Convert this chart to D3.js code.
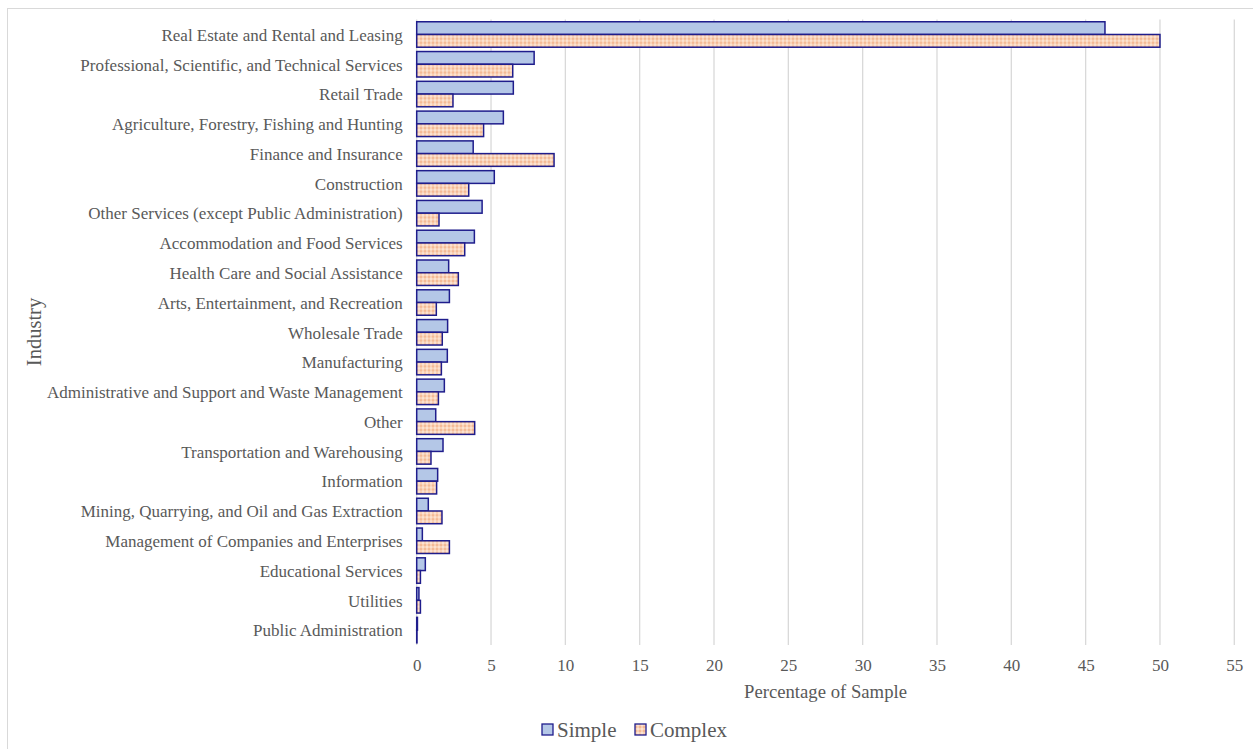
<!DOCTYPE html>
<html>
<head>
<meta charset="utf-8">
<script src="https://cdn.jsdelivr.net/npm/d3@7"></script>
<style>
  html, body { margin: 0; padding: 0; background: #fff; }
  svg { display: block; font-family: "Liberation Serif", "Times New Roman", serif; }
</style>
</head>
<body>
<svg id="chart" width="1253" height="749"></svg>
<script>
// Share of each sample by industry (%)
const categories = [
  "Real Estate and Rental and Leasing",
  "Professional, Scientific, and Technical Services",
  "Retail Trade",
  "Agriculture, Forestry, Fishing and Hunting",
  "Finance and Insurance",
  "Construction",
  "Other Services (except Public Administration)",
  "Accommodation and Food Services",
  "Health Care and Social Assistance",
  "Arts, Entertainment, and Recreation",
  "Wholesale Trade",
  "Manufacturing",
  "Administrative and Support and Waste Management",
  "Other",
  "Transportation and Warehousing",
  "Information",
  "Mining, Quarrying, and Oil and Gas Extraction",
  "Management of Companies and Enterprises",
  "Educational Services",
  "Utilities",
  "Public Administration"
];
const seriesNames = ["Simple", "Complex"];
const simpleValues = [46.3, 7.9, 6.5, 5.83, 3.8, 5.22, 4.4, 3.88, 2.15, 2.2, 2.08, 2.06, 1.86, 1.28, 1.77, 1.41, 0.78, 0.38, 0.58, 0.15, 0.05];
const complexValues = [50.0, 6.46, 2.44, 4.5, 9.24, 3.5, 1.5, 3.23, 2.8, 1.32, 1.72, 1.66, 1.46, 3.9, 0.96, 1.34, 1.7, 2.2, 0.25, 0.25, 0.02];
const xTicks = [0, 5, 10, 15, 20, 25, 30, 35, 40, 45, 50, 55];

const svg = d3.select("#chart");
const textColor = "#595959";
const edge = "#1f1d8c";

// Patterned fill for the Complex series
const defs = svg.append("defs");
const pat = defs.append("pattern")
  .attr("id", "complexFill")
  .attr("patternUnits", "userSpaceOnUse")
  .attr("width", 4).attr("height", 4);
pat.append("rect").attr("width", 4).attr("height", 4).attr("fill", "#f9d2b6");
pat.append("rect").attr("x", 0).attr("y", 0).attr("width", 2).attr("height", 2).attr("fill", "#f4b995");
pat.append("rect").attr("x", 2).attr("y", 2).attr("width", 2).attr("height", 2).attr("fill", "#fce2d0");

// Outer frame
svg.append("rect")
  .attr("x", 7.5).attr("y", 8.5)
  .attr("width", 1260).attr("height", 760)
  .attr("fill", "none").attr("stroke", "#d9d9d9").attr("stroke-width", 1);

const plot = { left: 416.7, right: 1234.3, top: 19.6, bottom: 645 };

const x = d3.scaleLinear().domain([0, 55]).range([plot.left, plot.right]);
const y0 = d3.scaleBand().domain(categories)
  .range([plot.top, plot.bottom]).paddingInner(0.145).paddingOuter(0.0725);
const y1 = d3.scaleBand().domain(seriesNames).range([0, y0.bandwidth()]);

// Vertical gridlines
svg.append("g").selectAll("line")
  .data(xTicks)
  .join("line")
  .attr("x1", d => x(d)).attr("x2", d => x(d))
  .attr("y1", plot.top).attr("y2", plot.bottom)
  .attr("stroke", "#d9d9d9").attr("stroke-width", 1.3);

// X axis tick labels
const xAxis = d3.axisBottom(x).tickValues(xTicks).tickSize(0).tickPadding(0);
const gx = svg.append("g").attr("transform", `translate(0,${plot.bottom + 14})`).call(xAxis);
gx.select(".domain").remove();
gx.selectAll("text")
  .attr("dy", "0.71em")
  .attr("fill", textColor)
  .style("font-family", "Liberation Serif")
  .style("font-size", "17px");

// Y axis category labels
const yAxis = d3.axisLeft(y0).tickSize(0).tickPadding(0);
const gy = svg.append("g").attr("transform", `translate(${plot.left - 14},0.8)`).call(yAxis);
gy.select(".domain").remove();
gy.selectAll("text")
  .attr("fill", textColor)
  .style("font-family", "Liberation Serif")
  .style("font-size", "17px");

// Bars
const rows = categories.map((c, i) => ({
  category: c,
  values: [
    { key: "Simple", value: simpleValues[i] },
    { key: "Complex", value: complexValues[i] }
  ]
}));
const fills = { Simple: "#b4c7e7", Complex: "url(#complexFill)" };

svg.append("g").selectAll("g")
  .data(rows)
  .join("g")
  .attr("transform", d => `translate(0,${y0(d.category)})`)
  .selectAll("rect")
  .data(d => d.values)
  .join("rect")
  .attr("x", x(0))
  .attr("y", d => y1(d.key))
  .attr("width", d => x(d.value) - x(0))
  .attr("height", y1.bandwidth())
  .attr("fill", d => fills[d.key])
  .attr("stroke", edge)
  .attr("stroke-width", 1.5);

// Axis titles
svg.append("text")
  .attr("x", (plot.left + plot.right) / 2).attr("y", 698)
  .attr("text-anchor", "middle")
  .attr("fill", textColor)
  .style("font-size", "18.7px")
  .text("Percentage of Sample");

svg.append("text")
  .attr("transform", `translate(41,332) rotate(-90)`)
  .attr("text-anchor", "middle")
  .attr("fill", textColor)
  .style("font-size", "20.5px")
  .text("Industry");

// Legend
const legend = svg.append("g").attr("transform", "translate(542,730)");
const items = legend.selectAll("g")
  .data(seriesNames)
  .join("g")
  .attr("transform", (d, i) => `translate(${i * 93},0)`);
items.append("rect")
  .attr("x", 0).attr("y", -6)
  .attr("width", 11).attr("height", 11)
  .attr("fill", d => fills[d])
  .attr("stroke", edge).attr("stroke-width", 1.3);
items.append("text")
  .attr("x", 15).attr("y", 0)
  .attr("dy", "0.35em")
  .attr("fill", textColor)
  .style("font-size", "21px")
  .text(d => d);
</script>
</body>
</html>
